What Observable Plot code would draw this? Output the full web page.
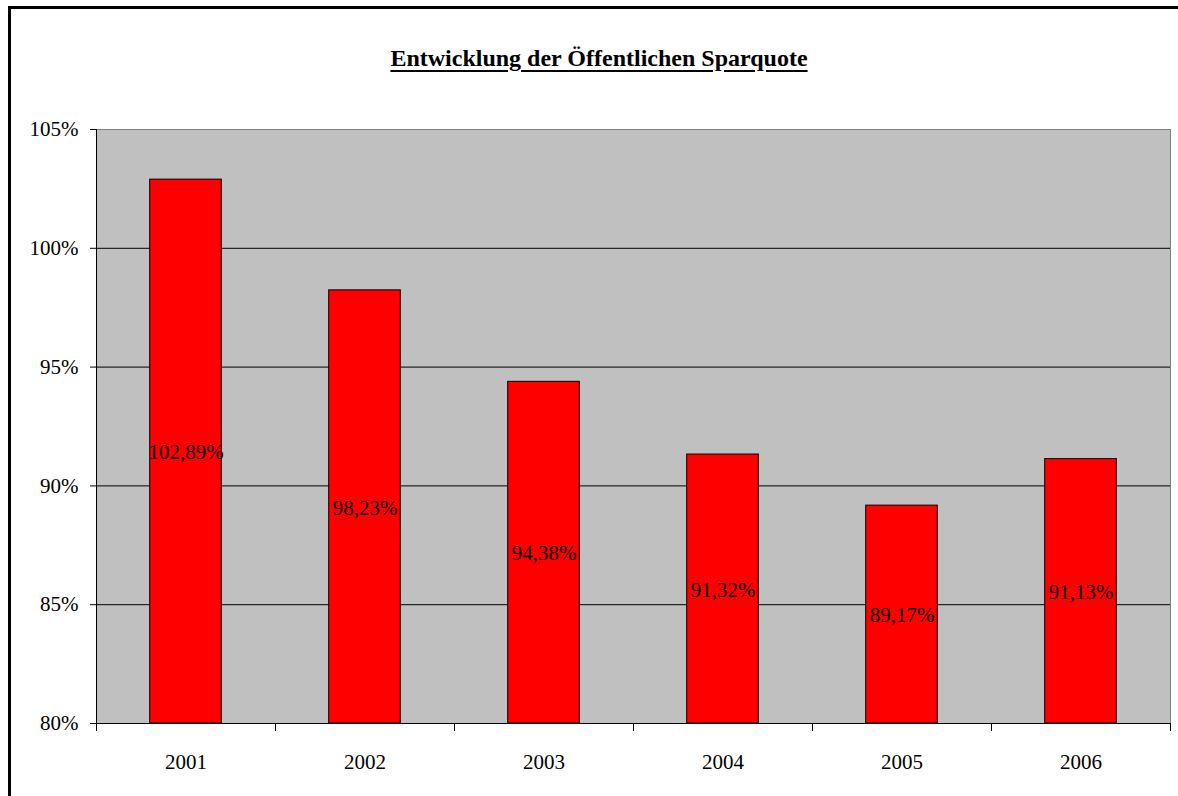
<!DOCTYPE html>
<html>
<head>
<meta charset="utf-8">
<script src="https://cdn.jsdelivr.net/npm/d3@7"></script>
<script src="https://cdn.jsdelivr.net/npm/@observablehq/plot@0.6"></script>
<style>
  html, body { margin: 0; padding: 0; background: #fff; overflow: hidden; }
  #wrap { position: relative; width: 1178px; height: 796px; overflow: hidden; }
  #frame { position: absolute; left: 8px; top: 6px; width: 1200px; height: 3px; background: #000; }
  #frameL { position: absolute; left: 8px; top: 6px; width: 3px; height: 800px; background: #000; }
  #title { position: absolute; top: 8px; left: 0; width: 1198px; height: 100px; text-align: center;
           font-family: "Liberation Serif", serif; font-weight: bold; font-size: 24px;
           line-height: 100px; text-decoration: underline; text-underline-offset: 4px; }
  #chart { position: absolute; top: 100px; left: 0; }
  #chart svg text { font-family: "Liberation Serif", serif; }
</style>
</head>
<body>
<div id="wrap">
  <div id="frame"></div>
  <div id="frameL"></div>
  <div id="title">Entwicklung der Öffentlichen Sparquote</div>
  <div id="chart"></div>
</div>
<script>
const years = [2001, 2002, 2003, 2004, 2005, 2006];
const values = [102.89, 98.23, 94.38, 91.32, 89.17, 91.13];
const labels = ["102,89%", "98,23%", "94,38%", "91,32%", "89,17%", "91,13%"];
const yTicks = [80, 85, 90, 95, 100, 105];
const gridLines = [85, 90, 95, 100];
const boundaries = [2000.5, 2001.5, 2002.5, 2003.5, 2004.5, 2005.5, 2006.5];

const data = years.map((year, i) => ({year, value: values[i], label: labels[i]}));
const halfBar = 0.2;
const serif = "Liberation Serif, Times New Roman, serif";

const plot = Plot.plot({
  width: 1178,
  height: 696,
  marginLeft: 96,
  marginRight: 8,
  marginTop: 29,
  marginBottom: 73,
  style: {fontFamily: serif, fontSize: "21px", color: "#000", background: "transparent"},
  x: {type: "linear", domain: [2000.5, 2006.5]},
  y: {domain: [80, 105]},
  marks: [
    Plot.frame({fill: "#C0C0C0", stroke: "#808080"}),
    Plot.ruleY(gridLines, {stroke: "#000", strokeWidth: 1}),
    Plot.rectY(data, {x1: d => d.year - halfBar, x2: d => d.year + halfBar, y1: 80, y2: "value", fill: "#FF0000", stroke: "#000", strokeWidth: 1}),
    Plot.text(data, {x: "year", y: d => (80 + d.value) / 2, dy: 1, text: "label", fill: "#000", fontSize: 21, fontFamily: serif}),
    Plot.ruleY([80], {stroke: "#000"}),
    Plot.ruleX([2000.5], {stroke: "#000"}),
    Plot.axisY({ticks: yTicks, tickFormat: d => d + "%", tickSize: 6, tickPadding: 12, fontSize: 21, fontFamily: serif, stroke: "#000", label: null}),
    Plot.axisX({ticks: boundaries, tickFormat: () => "", tickSize: 8, stroke: "#000", label: null}),
    Plot.axisX({ticks: years, tickFormat: d => String(d), tickSize: 0, tickPadding: 31, fontSize: 21, fontFamily: serif, label: null})
  ]
});
document.getElementById("chart").appendChild(plot);
</script>
</body>
</html>
